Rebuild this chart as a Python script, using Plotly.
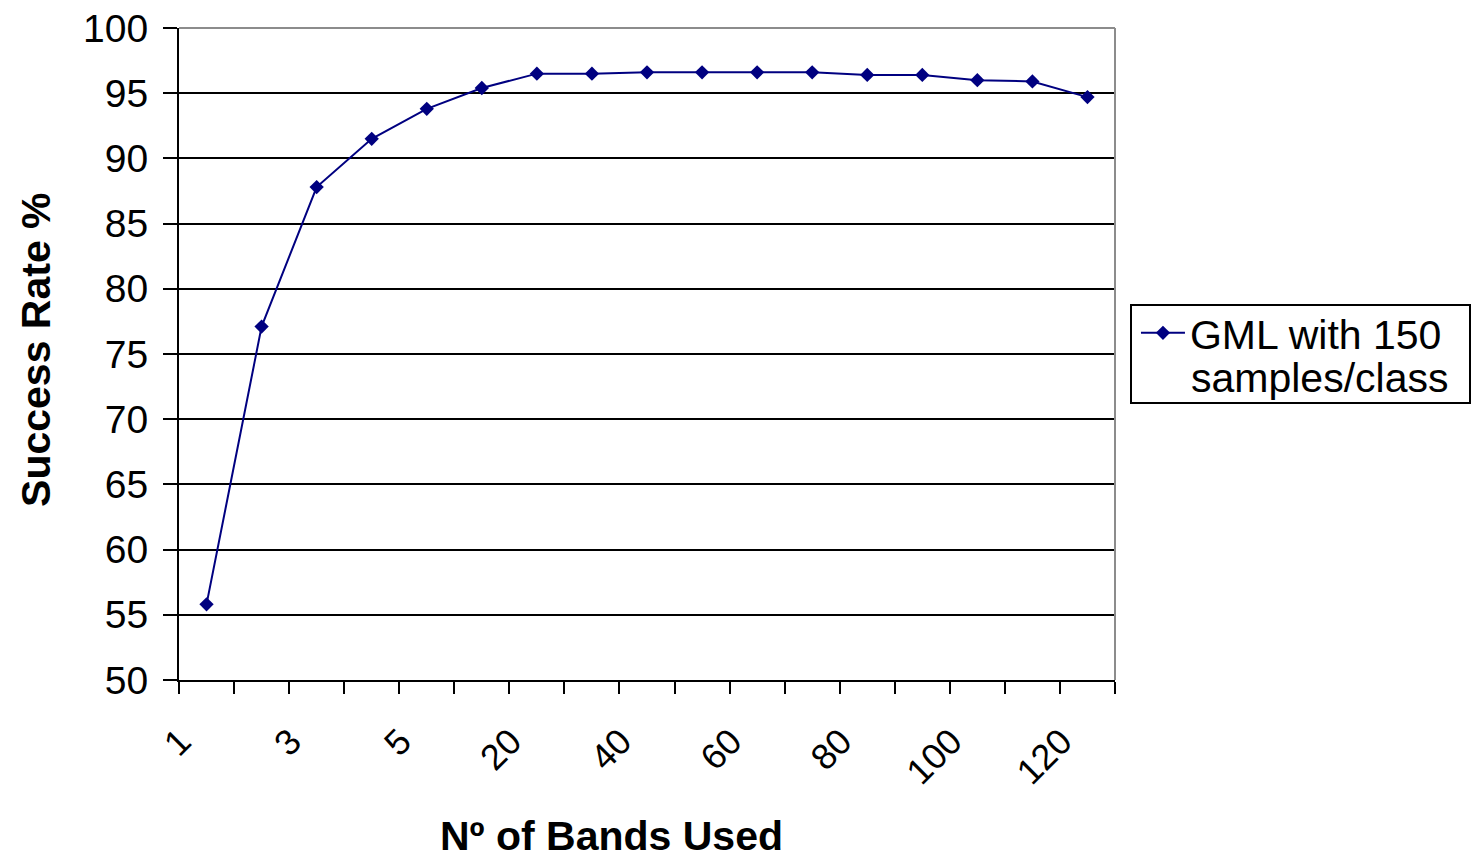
import plotly.graph_objects as go

# Number of spectral bands used (categorical positions) and classification success rate
bands = ["1", "2", "3", "4", "5", "10", "20", "30", "40", "50", "60", "70", "80", "90", "100", "110", "120"]
success_rate = [55.8, 77.1, 87.8, 91.5, 93.8, 95.4, 96.5, 96.5, 96.6, 96.6, 96.6, 96.6, 96.4, 96.4, 96.0, 95.9, 94.7]
y_ticks = [50, 55, 60, 65, 70, 75, 80, 85, 90, 95, 100]

positions = list(range(len(bands)))
label_pos = positions[::2]
label_txt = bands[::2]

FONT = "Liberation Sans, Arial, sans-serif"
NAVY = "#000080"

fig = go.Figure()
fig.add_trace(go.Scatter(
    x=positions,
    y=success_rate,
    mode="lines+markers",
    name="GML with 150",
    line=dict(color=NAVY, width=2),
    marker=dict(symbol="diamond", size=11, color=NAVY),
))

fig.update_layout(
    width=1472,
    height=861,
    margin=dict(l=179, r=357, t=28, b=181, autoexpand=False),
    paper_bgcolor="white",
    plot_bgcolor="white",
    font=dict(family=FONT, color="black", size=39),
    showlegend=True,
    legend=dict(
        x=1.0224, xanchor="left",
        y=0.532, yanchor="middle",
        borderwidth=0,
        bgcolor="rgba(0,0,0,0)",
        font=dict(family=FONT, size=41, color="black"),
        itemwidth=44,
    ),
    xaxis=dict(
        range=[-0.5, len(bands) - 0.5],
        tickmode="array",
        tickvals=label_pos,
        ticktext=label_txt,
        tickangle=-45,
        ticks="",
        showgrid=False,
        zeroline=False,
        showline=True,
        linecolor="black",
        linewidth=2,
        automargin=False,
        tickfont=dict(family=FONT, size=36),
        ticklabelstandoff=24,
        ticklabelshift=-26,
        minor=dict(
            tickmode="linear", tick0=-0.5, dtick=1,
            ticks="outside", ticklen=12, tickwidth=2, tickcolor="black",
            showgrid=False,
        ),
    ),
    yaxis=dict(
        range=[50, 100],
        tickmode="array",
        tickvals=y_ticks,
        ticks="outside",
        ticklen=14,
        tickwidth=2,
        tickcolor="black",
        showgrid=True,
        gridcolor="black",
        gridwidth=1.6,
        zeroline=False,
        showline=True,
        linecolor="black",
        linewidth=2,
        automargin=False,
        tickfont=dict(family=FONT, size=39),
        ticklabelstandoff=7,
    ),
)

# axis titles
fig.add_annotation(text="<b>Nº of Bands Used</b>", xref="paper", yref="paper",
                   x=0.4626, y=(680 - 836) / 652, xanchor="center", yanchor="middle",
                   showarrow=False, font=dict(family=FONT, size=41, color="black"))
fig.add_annotation(text="<b>Success Rate %</b>", xref="paper", yref="paper",
                   x=-0.1528, y=0.5077, xanchor="center", yanchor="middle",
                   textangle=-90, showarrow=False,
                   font=dict(family=FONT, size=41, color="black"))

# second line of the series label and the framed legend box
fig.add_annotation(text="samples/class", xref="paper", yref="paper",
                   x=(1189 - 179) / 936, y=(680 - 378) / 652,
                   xanchor="left", yanchor="middle", showarrow=False,
                   font=dict(family=FONT, size=41, color="black"))
fig.add_shape(type="rect", xref="paper", yref="paper",
              x0=(1131 - 179) / 936, x1=(1470 - 179) / 936,
              y0=(680 - 403) / 652, y1=(680 - 305) / 652,
              line=dict(color="black", width=2), layer="above")

# grey frame along the top and right of the plot area
fig.add_shape(type="line", xref="paper", yref="paper", x0=0, x1=1, y0=1, y1=1,
              line=dict(color="#8c8c8c", width=2), layer="above")
fig.add_shape(type="line", xref="paper", yref="paper", x0=1, x1=1, y0=0, y1=1,
              line=dict(color="#8c8c8c", width=2), layer="above")

fig.write_html("out.html")
